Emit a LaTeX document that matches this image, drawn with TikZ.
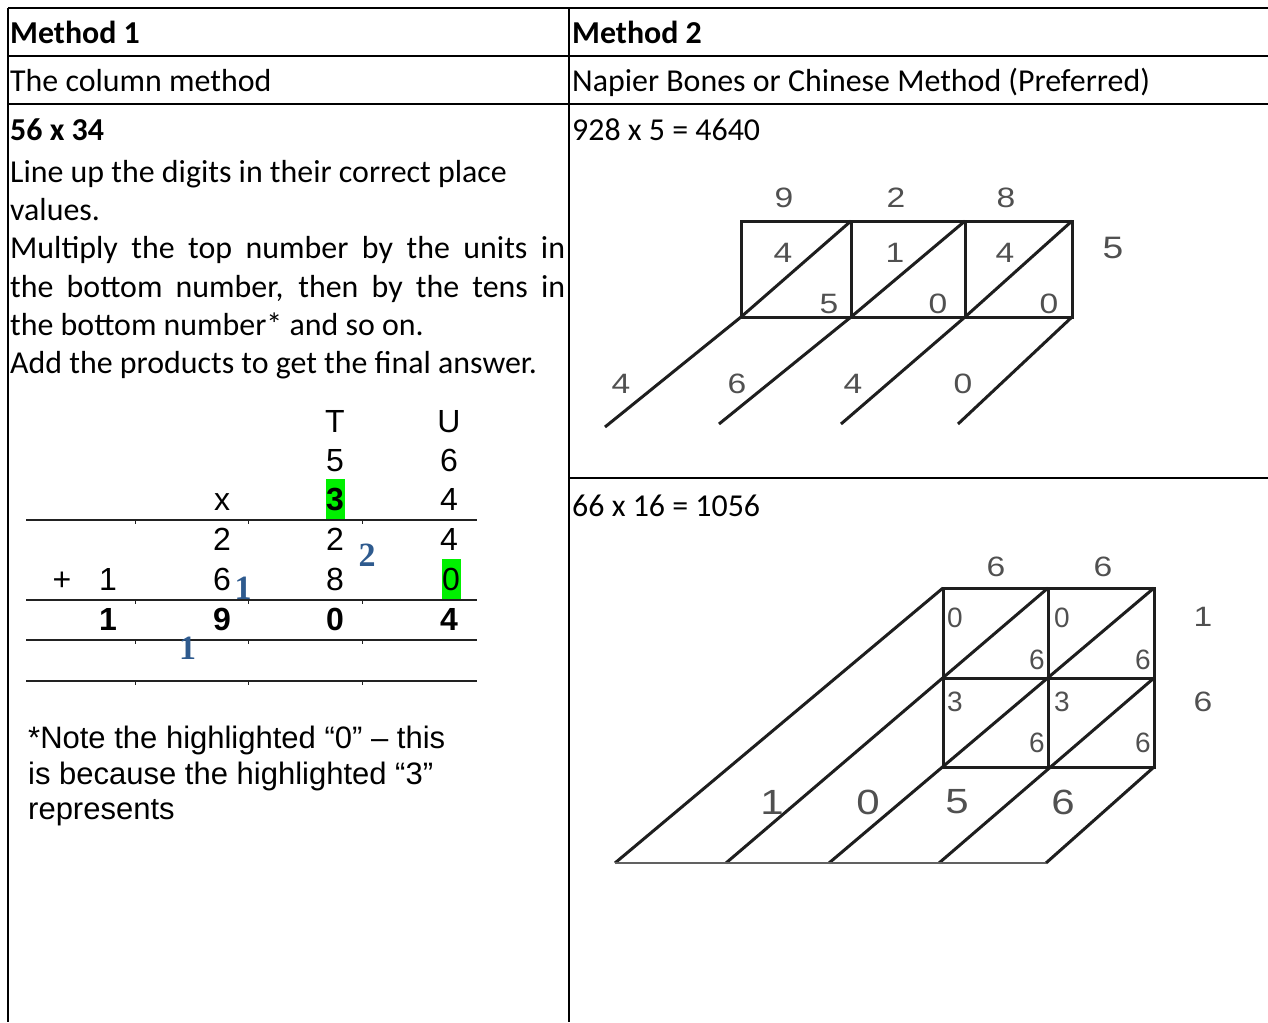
\documentclass[tikz,border=0pt]{standalone}
\usepackage{fontspec}
\setmainfont{Carlito}
\newfontfamily\arialf{Liberation Sans}
\newfontfamily\arialw[FakeStretch=1.2]{Liberation Sans}
\newfontfamily\timesf{Liberation Serif}
\definecolor{carryblue}{HTML}{2E5A8E}
\definecolor{hlgreen}{HTML}{00F000}
\definecolor{napgray}{HTML}{505050}
\definecolor{napdark}{HTML}{1E1E1E}
\definecolor{rulegray}{HTML}{222222}
\begin{document}
\begin{tikzpicture}[x=1pt,y=-1pt,
  frame/.style={line width=2.2pt,draw=black},
  txt/.style={anchor=base west,inner sep=0pt,font=\fontsize{31.9}{38}\selectfont},
  btxt/.style={txt,font=\fontsize{31.9}{38}\selectfont\bfseries},
  coltxt/.style={anchor=base,inner sep=0pt,font=\arialf\fontsize{32}{38}\selectfont},
  colbold/.style={coltxt,font=\arialf\fontsize{32}{38}\selectfont\bfseries},
  carry/.style={anchor=base,inner sep=0pt,text=carryblue,font=\timesf\fontsize{34}{38}\selectfont\bfseries},
  notetxt/.style={anchor=base west,inner sep=0pt,font=\arialf\fontsize{31}{35}\selectfont},
  rowrule/.style={line width=1.6pt,draw=rulegray},
  tick/.style={line width=1pt,draw=rulegray},
  hl/.style={fill=hlgreen,draw=none},
  napline/.style={line width=3pt,draw=napdark},
  napthin/.style={line width=2.2pt,draw=napdark!70},
  napnum/.style={inner sep=0pt,text=napgray,font=\arialw\fontsize{28}{32}\selectfont},
  napbig/.style={inner sep=0pt,text=napgray,font=\arialw\fontsize{35}{40}\selectfont}
]
\useasboundingbox (0,0) rectangle (1268,1022);

% ---------- table frame ----------
\coordinate (TL) at (8,8);
\coordinate (TR) at (1268,8);
\coordinate (BL) at (8,1022);
\coordinate (MT) at (569,8);
\coordinate (MB) at (569,1022);
\coordinate (R1L) at (8,56);
\coordinate (R1R) at (1268,56);
\coordinate (R2L) at (8,104);
\coordinate (R2R) at (1268,104);
\coordinate (R3L) at (569,478);
\coordinate (R3R) at (1268,478);
\draw[frame] (TL) -- (TR);
\draw[frame] (TL) -- (BL);
\draw[frame] (MT) -- (MB);
\draw[frame] (R1L) -- (R1R);
\draw[frame] (R2L) -- (R2R);
\draw[frame] (R3L) -- (R3R);

% ---------- headers ----------
\node[btxt] (h1) at (10,44) {Method 1};
\node[btxt] (h2) at (572,44) {Method 2};
\node[txt] (s1) at (10,92) {The column method};
\node[txt] (s2) at (572,92) {Napier Bones or Chinese Method (Preferred)};

% ---------- left column text ----------
\node[btxt] (p0) at (10,140) {56 x 34};
\node[txt] (p1) at (10,182) {Line up the digits in their correct place};
\node[txt] (p2) at (10,220) {values.};
\node[txt] (p3) at (10,258) {\makebox[555pt][s]{Multiply the top number by the units in}};
\node[txt] (p4) at (10,297) {\makebox[555pt][s]{the bottom number, then by the tens in}};
\node[txt] (p5) at (10,335) {the bottom number* and so on.};
\node[txt] (p6) at (10,373) {Add the products to get the final answer.};

% ---------- column method table ----------
\fill[hl] (325.7,479.3) rectangle (345,519.3);
\fill[hl] (441.7,559) rectangle (461,599.3);
\foreach \yy/\nm in {520/a,600/b,640/c,681/d}{
  \coordinate (rl\nm) at (26,\yy);
  \coordinate (rr\nm) at (477,\yy);
  \draw[rowrule] (rl\nm) -- (rr\nm);
  \foreach \xx in {135,248,362}{
    \draw[tick] (\xx,\yy+0.8) -- (\xx,\yy+3.5);
  }
}
\node[coltxt] (cT) at (335,432.7) {T};
\node[coltxt] (cU) at (449,432.7) {U};
\node[coltxt] (c5) at (335,471) {5};
\node[coltxt] (c6) at (449,471) {6};
\node[coltxt] (cx) at (222,510.7) {x};
\node[colbold] (c3) at (335,510.7) {3};
\node[coltxt] (c4) at (449,510.7) {4};
\node[coltxt] (d2a) at (222,550.7) {2};
\node[coltxt] (d2b) at (335,550.7) {2};
\node[coltxt] (d4) at (449,550.7) {4};
\node[coltxt] (eplus) at (62,590) {+};
\node[coltxt] (e1) at (108,590) {1};
\node[coltxt] (e6) at (222,590) {6};
\node[coltxt] (e8) at (335,590) {8};
\node[coltxt] (e0) at (451,590) {0};
\node[colbold] (f1) at (108,630.7) {1};
\node[colbold] (f9) at (222,630.7) {9};
\node[colbold] (f0) at (335,630.7) {0};
\node[colbold] (f4) at (449,630.7) {4};
\node[carry] (k2) at (367,566.5) {2};
\node[carry] (k1a) at (243,599) {1};
\node[carry] (k1b) at (187.5,659) {1};

% ---------- note ----------
\node[notetxt] (n1) at (28,748) {*Note the highlighted “0” – this};
\node[notetxt] (n2) at (28,784) {is because the highlighted “3”};
\node[notetxt] (n3) at (28,819) {represents};

% ---------- right column text ----------
\node[txt] (q1) at (572,140) {928 x 5 = 4640};
\node[txt] (q2) at (572,516) {66 x 16 = 1056};

% ---------- lattice 1: 928 x 5 ----------
\coordinate (t0) at (741,221); \coordinate (t1) at (851,221);
\coordinate (t2) at (965,221); \coordinate (t3) at (1072,221);
\coordinate (b0) at (741,317); \coordinate (b1) at (851,317);
\coordinate (b2) at (965,317); \coordinate (b3) at (1072,317);
\coordinate (e0x) at (605,427); \coordinate (e1x) at (719,424);
\coordinate (e2x) at (841,424); \coordinate (e3x) at (958,424);
\draw[napline] (t0) -- (t3) -- (b3) -- (b0) -- cycle;
\draw[napline] (t1) -- (b1);
\draw[napline] (t2) -- (b2);
\draw[napline] (b0) -- (t1);
\draw[napline] (b1) -- (t2);
\draw[napline] (b2) -- (t3);
\draw[napline] (b0) -- (e0x);
\draw[napline] (b1) -- (e1x);
\draw[napline] (b2) -- (e2x);
\draw[napline] (b3) -- (e3x);
\node[napnum] (l9) at (784,198) {9};
\node[napnum] (l2) at (896,198) {2};
\node[napnum] (l8) at (1006,198) {8};
\node[napnum,font=\arialw\fontsize{31}{34}\selectfont] (l5) at (1113,248) {5};
\node[napnum] (m4a) at (783,253) {4};
\node[napnum] (m5) at (829,304) {5};
\node[napnum] (m1) at (895,253) {1};
\node[napnum] (m0a) at (938,304) {0};
\node[napnum] (m4b) at (1005,253) {4};
\node[napnum] (m0b) at (1049,304) {0};
\node[napnum] (o4a) at (621,384) {4};
\node[napnum] (o6) at (737,384) {6};
\node[napnum] (o4b) at (853,384) {4};
\node[napnum] (o0) at (963,384) {0};

% ---------- lattice 2: 66 x 16 ----------
\coordinate (g00) at (943,588); \coordinate (g10) at (1048,588); \coordinate (g20) at (1154,588);
\coordinate (g01) at (943,678); \coordinate (g11) at (1048,678); \coordinate (g21) at (1154,678);
\coordinate (g02) at (943,767); \coordinate (g12) at (1048,767); \coordinate (g22) at (1154,767);
\coordinate (z1) at (615,863); \coordinate (z2) at (726,863); \coordinate (z3) at (829,863);
\coordinate (z4) at (939,863); \coordinate (z5) at (1046,863);
\draw[napline] (g00) -- (g20) -- (g22) -- (g02) -- cycle;
\draw[napline] (g10) -- (g12);
\draw[napline] (g01) -- (g21);
\draw[napline] (g00) -- (z1);
\draw[napline] (g10) -- (z2);
\draw[napline] (g20) -- (z3);
\draw[napline] (g21) -- (z4);
\draw[napline] (g22) -- (z5);
\draw[napthin] (z1) -- (z5);
\node[napnum] (u6a) at (996,567) {6};
\node[napnum] (u6b) at (1103,567) {6};
\node[napnum] (v1) at (1203,617) {1};
\node[napnum] (v6) at (1203,702) {6};
\node[napnum,font=\arialf\fontsize{28}{32}\selectfont] (w0a) at (955,618) {0};
\node[napnum,font=\arialf\fontsize{28}{32}\selectfont] (w6a) at (1037,660) {6};
\node[napnum,font=\arialf\fontsize{28}{32}\selectfont] (w0b) at (1062,618) {0};
\node[napnum,font=\arialf\fontsize{28}{32}\selectfont] (w6b) at (1143,660) {6};
\node[napnum,font=\arialf\fontsize{28}{32}\selectfont] (w3a) at (955,702) {3};
\node[napnum,font=\arialf\fontsize{28}{32}\selectfont] (w6c) at (1037,743) {6};
\node[napnum,font=\arialf\fontsize{28}{32}\selectfont] (w3b) at (1062,702) {3};
\node[napnum,font=\arialf\fontsize{28}{32}\selectfont] (w6d) at (1143,743) {6};
\node[napbig] (y1) at (772,802) {1};
\node[napbig] (y0) at (868,802) {0};
\node[napbig] (y5) at (957,802) {5};
\node[napbig] (y6) at (1063,802) {6};
\end{tikzpicture}
\end{document}
